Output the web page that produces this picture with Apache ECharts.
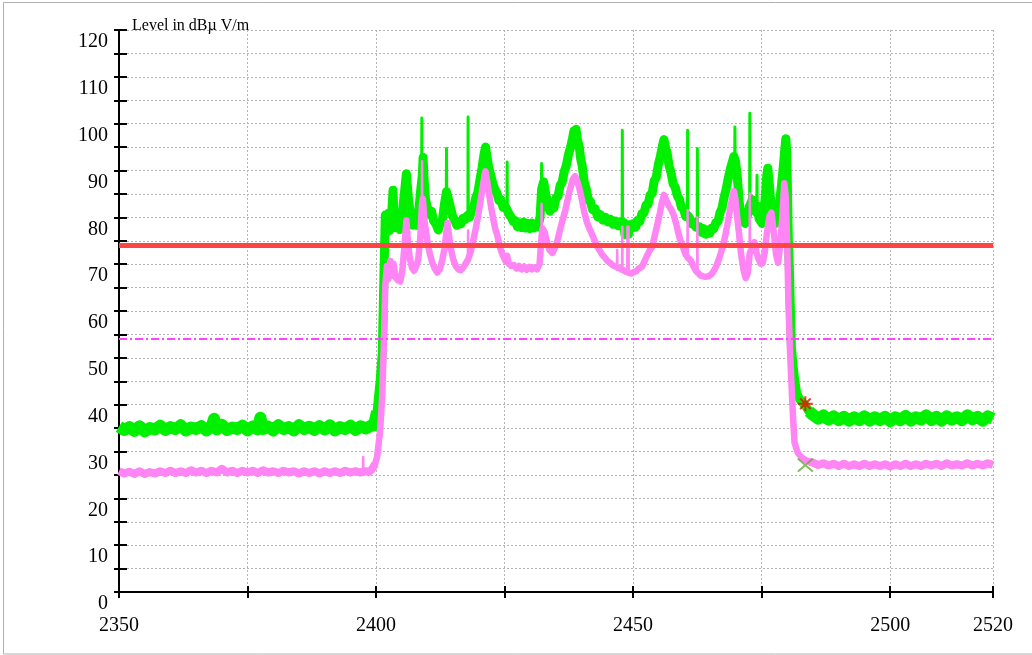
<!DOCTYPE html>
<html>
<head>
<meta charset="utf-8">
<script src="https://cdn.jsdelivr.net/npm/echarts@6/dist/echarts.min.js"></script>
<style>
html,body{margin:0;padding:0;background:#fff;}
#chart{width:1032px;height:655px;}
</style>
</head>
<body>
<div id="chart"></div>
<script>
// ---- data (frequency MHz, level dBµV/m) ----
const titleText = 'Level in dBµ V/m';
const xTickLabels = [2350, 2400, 2450, 2500, 2520];
const yTickLabels = [0, 10, 20, 30, 40, 50, 60, 70, 80, 90, 100, 110, 120];

// peak detector trace (green), broad shape
const peakTrace = [
[2350,35.3],[2351,34.6],[2352,35.2],[2353,34.4],[2354,35.4],[2355,34.3],[2356,35.0],[2357,34.7],[2358,35.5],[2359,34.6],
[2360,35.2],[2361,34.8],[2362,35.6],[2363,34.5],[2364,35.1],[2365,34.8],[2366,35.4],[2367,34.5],[2368,35.3],[2368.5,37.0],[2369,34.7],
[2370,35.7],[2371,34.6],[2372,35.1],[2373,34.8],[2374,35.5],[2375,34.5],[2376,35.3],[2377,34.7],[2377.5,37.2],[2378,34.8],[2379,35.3],
[2380,34.5],[2381,35.6],[2382,34.8],[2383,35.2],[2384,34.5],[2385,35.6],[2386,34.8],[2387,35.3],[2388,34.6],[2389,35.4],
[2390,34.7],[2391,35.6],[2392,34.5],[2393,35.2],[2394,34.8],[2395,35.5],[2396,34.6],[2397,35.4],[2398,34.9],[2399,35.5],
[2399.6,35.6],[2400.2,38.5],[2400.8,45.2],[2401.2,50.9],[2401.5,66.0],
[2401.8,80.5],[2402.0,76.8],[2402.3,80.8],[2402.6,77.2],[2403.0,80.0],[2403.3,85.8],[2403.5,80.0],[2403.8,77.8],[2404.2,78.8],[2404.6,77.4],
[2405.0,79.6],[2405.4,84.0],[2405.9,89.3],[2406.3,84.0],[2406.7,80.5],[2407.1,78.3],[2407.5,79.3],[2407.9,78.3],[2408.3,81.3],[2408.7,86.0],
[2409.0,89.0],[2409.15,92.8],[2409.35,88.0],[2409.6,84.0],[2410.0,82.0],[2410.4,80.6],[2410.8,81.3],[2411.2,79.2],[2411.6,78.7],[2412.1,77.3],
[2412.5,78.8],[2412.9,79.4],[2413.3,82.8],[2413.7,85.5],[2414.1,83.8],[2414.5,82.0],[2414.9,80.2],[2415.3,79.4],[2415.7,78.3],[2416.1,78.9],
[2416.5,78.6],[2416.9,79.8],[2417.3,79.5],[2417.8,80.4],[2418.2,80.0],[2418.6,81.5],[2419.0,82.2],[2419.4,84.2],[2419.8,85.3],[2420.2,88.0],
[2420.6,90.5],[2421.0,93.5],[2421.3,95.0],[2421.6,92.8],[2421.9,90.8],[2422.3,89.0],[2422.7,87.3],[2423.1,86.0],[2423.5,85.2],[2423.9,83.6],
[2424.3,83.8],[2424.7,82.1],[2425.1,82.4],[2425.5,81.6],[2425.9,80.6],[2426.3,80.0],[2426.7,79.1],[2427.1,79.3],[2427.5,78.0],[2427.9,78.8],
[2428.3,77.8],[2428.7,79.0],[2429.1,77.7],[2429.5,78.7],[2429.9,77.6],[2430.3,78.8],[2430.7,77.7],[2431.1,78.6],[2431.5,78.0],[2431.9,80.0],
[2432.2,86.0],[2432.6,87.6],[2433.0,85.0],[2433.4,83.0],[2433.8,81.3],[2434.2,82.3],[2434.6,82.0],[2435.0,84.2],[2435.4,84.5],[2435.8,86.8],
[2436.2,87.5],[2436.6,89.8],[2437.0,91.0],[2437.4,93.3],[2437.8,94.8],[2438.2,96.8],[2438.5,98.5],[2438.7,97.9],[2438.9,98.8],[2439.2,96.3],
[2439.5,95.3],[2439.8,92.5],[2440.1,91.0],[2440.5,87.5],[2440.9,86.0],[2441.3,83.7],[2441.7,83.4],[2442.1,81.7],[2442.6,81.8],[2443.1,80.1],
[2443.6,80.6],[2444.1,79.4],[2444.6,80.0],[2445.1,79.0],[2445.6,79.6],[2446.1,78.5],[2446.6,79.2],[2447.1,78.2],[2447.5,79.0],[2447.9,78.3],
[2448.2,78.9],[2448.4,76.3],[2448.6,78.4],[2448.9,77.5],[2449.1,76.4],[2449.3,78.4],[2449.7,77.6],[2450.1,78.7],[2450.5,77.9],[2450.9,79.4],
[2451.3,79.1],[2451.7,80.8],[2452.1,80.9],[2452.5,82.6],[2452.9,82.7],[2453.3,84.8],[2453.7,85.1],[2454.1,87.8],[2454.5,88.5],[2454.9,91.2],
[2455.3,93.0],[2455.7,95.2],[2456.0,96.6],[2456.3,94.8],[2456.6,93.8],[2457.0,91.0],[2457.4,89.4],[2457.8,87.1],[2458.2,86.4],[2458.6,84.6],
[2459.0,83.9],[2459.4,82.1],[2459.8,81.9],[2460.2,80.2],[2460.6,80.4],[2461.0,79.8],[2461.4,78.6],[2461.8,79.0],[2462.2,77.9],[2462.5,78.3],
[2462.9,78.0],[2463.3,76.8],[2463.7,77.6],[2464.1,76.4],[2464.5,77.3],[2464.9,76.6],[2465.3,77.7],[2465.7,77.6],[2466.1,78.9],[2466.5,79.1],
[2466.9,81.0],[2467.3,82.0],[2467.7,84.3],[2468.1,86.0],[2468.5,88.3],[2468.9,90.3],[2469.3,91.8],[2469.6,93.0],[2469.9,92.0],[2470.2,89.5],
[2470.5,85.3],[2470.8,81.2],[2471.1,79.2],[2471.4,79.9],[2471.8,78.7],[2472.2,80.3],[2472.6,82.3],[2472.9,83.0],[2473.2,83.8],[2473.5,82.3],
[2473.8,81.2],[2474.1,82.5],[2474.5,79.7],[2474.8,80.0],[2475.1,78.7],[2475.4,80.8],[2475.7,84.3],[2476.0,89.0],[2476.2,90.5],[2476.5,87.0],
[2476.8,83.1],[2477.1,80.6],[2477.4,79.6],[2477.7,78.7],[2478.0,79.9],[2478.3,81.4],[2478.6,84.3],[2478.9,87.3],[2479.2,90.7],[2479.5,94.5],
[2479.7,96.8],[2479.9,93.5],[2480.05,84.0],[2480.2,75.0],[2480.4,69.0],[2480.6,60.0],[2480.8,52.0],[2481.1,48.5],[2481.4,45.5],[2481.8,42.5],
[2482.3,41.3],[2482.8,40.6],[2483.5,39.8],[2484.2,38.6],
[2485,37.8],[2486,37.0],[2487,37.7],[2488,36.8],[2489,37.5],[2490,36.7],[2491,37.4],[2492,36.6],[2493,37.3],[2494,36.7],
[2495,37.5],[2496,36.6],[2497,37.3],[2498,36.7],[2499,37.4],[2500,36.5],[2501,37.3],[2502,36.7],[2503,37.6],[2504,36.6],
[2505,37.3],[2506,36.8],[2507,37.7],[2508,36.7],[2509,37.4],[2510,36.6],[2511,37.5],[2512,36.8],[2513,37.3],[2514,36.7],
[2515,37.7],[2516,36.9],[2517,37.4],[2518,36.6],[2519,37.5],[2520,37.0]
];

// narrow spikes on the peak trace: [frequency, top, base]
const peakSpikes = [
[2408.9,101.2,89],[2413.7,94.7,85],[2417.9,101.4,80],[2425.5,91.8,82],[2432.2,91.5,86],
[2447.9,98.6,78.5],[2460.6,98.6,80],[2462.5,94.7,78],[2469.8,99.3,92],[2472.7,102.2,82.5],[2474.1,89.0,82]
];

// average detector trace (magenta), broad shape
const avgTrace = [
[2350,25.8],[2351,25.3],[2352,25.7],[2353,25.2],[2354,25.8],[2355,25.2],[2356,25.6],[2357,25.3],[2358,25.8],[2359,25.4],
[2360,25.9],[2361,25.4],[2362,25.8],[2363,25.4],[2364,26.0],[2365,25.5],[2366,25.9],[2367,25.4],[2368,25.9],[2369,25.5],
[2370,26.3],[2371,25.5],[2372,25.9],[2373,25.4],[2374,25.9],[2375,25.5],[2376,25.9],[2377,25.4],[2378,26.0],[2379,25.5],
[2380,25.8],[2381,25.4],[2382,25.9],[2383,25.5],[2384,25.8],[2385,25.3],[2386,25.8],[2387,25.4],[2388,25.8],[2389,25.3],
[2390,25.8],[2391,25.4],[2392,25.8],[2393,25.4],[2394,25.9],[2395,25.5],[2396,25.8],[2397,25.5],[2398,25.8],[2398.6,25.6],
[2399.2,26.2],[2399.8,27.3],[2400.2,28.8],[2400.8,34.5],[2401.2,42.0],[2401.5,52.3],[2401.8,65.5],
[2402.1,69.6],[2402.4,66.8],[2402.8,70.7],[2403.1,67.6],[2403.4,70.1],[2403.8,67.2],[2404.2,66.6],[2404.7,66.3],[2405.1,68.5],[2405.5,73.5],
[2405.9,79.3],[2406.2,74.8],[2406.6,71.0],[2407.0,69.2],[2407.4,68.6],[2407.8,69.5],[2408.2,71.0],[2408.6,75.5],[2408.9,82.5],[2409.1,84.0],[2409.4,79.5],
[2409.8,76.3],[2410.2,73.5],[2410.6,71.6],[2411.0,70.1],[2411.5,68.9],[2411.9,68.2],[2412.4,68.9],[2412.9,70.9],[2413.3,73.3],[2413.7,77.0],
[2413.9,78.8],[2414.2,75.9],[2414.6,73.0],[2415.0,71.1],[2415.5,69.6],[2416.0,68.9],[2416.4,68.7],[2416.9,69.2],[2417.4,70.1],[2417.9,71.0],
[2418.4,72.6],[2418.8,74.5],[2419.3,77.1],[2419.8,80.0],[2420.3,83.4],[2420.8,86.8],[2421.1,89.0],[2421.3,89.8],[2421.6,87.8],[2422.0,84.9],
[2422.4,82.0],[2422.8,79.6],[2423.2,77.5],[2423.6,76.1],[2424.0,74.0],[2424.4,72.6],[2424.8,71.5],[2425.2,70.6],[2425.5,71.8],[2425.8,70.1],
[2426.3,69.6],[2426.8,69.8],[2427.3,69.1],[2427.8,69.6],[2428.3,68.9],[2428.8,69.5],[2429.3,68.8],[2429.8,69.4],[2430.3,68.9],[2430.8,69.3],
[2431.3,68.9],[2431.8,70.0],[2432.2,76.0],[2432.4,77.6],[2432.8,76.8],[2433.2,74.9],[2433.7,73.1],[2434.3,72.4],[2434.8,73.5],[2435.3,75.1],
[2435.8,77.4],[2436.3,79.5],[2436.8,81.4],[2437.3,84.0],[2437.8,86.3],[2438.3,88.2],[2438.7,88.8],[2439.1,87.8],[2439.5,86.4],[2440.0,84.0],
[2440.5,81.1],[2441.0,79.0],[2441.5,77.6],[2442.0,76.4],[2442.5,75.1],[2443.0,73.8],[2443.5,72.9],[2444.0,72.0],[2444.5,71.4],[2445.0,70.7],
[2445.5,70.3],[2446.0,69.8],[2446.5,69.5],[2447.0,69.2],[2447.5,69.1],[2447.9,68.8],[2448.3,68.6],[2448.7,68.3],[2449.1,68.2],[2449.6,68.0],
[2450.1,68.3],[2450.6,68.5],[2451.1,69.1],[2451.7,69.4],[2452.2,70.6],[2452.7,71.8],[2453.2,72.9],[2453.7,73.7],[2454.2,76.0],[2454.7,78.4],
[2455.2,80.9],[2455.6,83.2],[2456.0,84.8],[2456.4,83.8],[2456.9,82.5],[2457.4,81.7],[2457.9,80.5],[2458.4,78.5],[2458.8,76.6],[2459.2,75.1],
[2459.7,73.6],[2460.2,72.1],[2460.6,71.4],[2461.2,70.8],[2461.7,69.6],[2462.2,68.6],[2462.5,68.2],[2463.1,67.6],[2463.6,67.4],[2464.1,67.3],
[2464.6,67.4],[2465.1,67.7],[2465.6,68.4],[2466.1,69.4],[2466.6,70.8],[2467.1,72.5],[2467.6,74.5],[2468.0,76.5],[2468.5,79.4],[2468.9,82.0],
[2469.3,84.2],[2469.6,85.6],[2469.9,83.8],[2470.2,80.5],[2470.6,76.5],[2471.0,72.1],[2471.5,68.6],[2471.9,67.0],[2472.3,68.1],[2472.7,72.5],
[2473.2,73.0],[2473.6,74.7],[2474.0,72.5],[2474.4,71.1],[2474.8,70.1],[2475.2,70.2],[2475.6,72.5],[2476.0,76.4],[2476.5,80.2],[2476.9,81.0],
[2477.3,77.5],[2477.8,72.1],[2478.2,70.3],[2478.6,74.0],[2479.0,79.8],[2479.4,87.3],[2479.7,84.2],[2480.0,73.0],[2480.2,62.0],[2480.5,52.0],
[2480.8,44.5],[2481.1,37.4],[2481.4,31.9],[2482.0,29.8],[2482.7,28.8],[2483.5,28.2],[2484.3,27.8],
[2485,27.6],[2486,27.1],[2487,27.5],[2488,27.0],[2489,27.4],[2490,26.9],[2491,27.4],[2492,26.9],[2493,27.3],[2494,26.9],
[2495,27.4],[2496,26.9],[2497,27.3],[2498,26.9],[2499,27.3],[2500,26.8],[2501,27.3],[2502,26.9],[2503,27.4],[2504,26.9],
[2505,27.3],[2506,26.9],[2507,27.4],[2508,27.0],[2509,27.4],[2510,26.9],[2511,27.5],[2512,27.0],[2513,27.3],[2514,27.0],
[2515,27.5],[2516,27.0],[2517,27.4],[2518,27.0],[2519,27.5],[2520,27.1]
];

// narrow spikes on the average trace: [frequency, top, base]
const avgSpikes = [
[2397.5,28.8,25.6],[2408.95,92.0,84],[2417.9,77.2,71],[2432.2,82.9,76],[2446.9,73.0,69.4],[2447.9,78.0,68.8],
[2448.9,78.0,68.3],[2449.1,78.0,68.2],[2460.6,81.5,71.4],[2462.5,80.0,68.2],[2472.7,85.1,72.5]
];

const peakLimit = [[2350, 74], [2520, 74]];
const avgLimit = [[2350, 54], [2520, 54]];
const peakMarker = [[2483.5, 40.2]];
const avgMarker = [[2483.5, 27.1]];

// helpers: part of a trace within a frequency range; spike polylines with gaps
function part(trace, lo, hi) { return trace.filter(p => p[0] >= lo && p[0] <= hi); }
function spikeLine(spikes) {
  const out = [];
  spikes.forEach(s => {
    out.push([s[0] - 0.04, s[2]], [s[0], s[1]], [s[0] + 0.04, s[2]], [s[0] + 0.05, '-']);
  });
  return out;
}

// ---- chart ----
const FONT = 'Liberation Serif';
const chart = echarts.init(document.getElementById('chart'), null, {renderer: 'canvas'});

const gridLine = {show: true, lineStyle: {color: '#b4b4b4', width: 1, type: [2, 2]}};
const GREEN = '#00f000';
const PINK = '#ff85f5';

function trace(name, data, color, width, z) {
  return {
    name: name, type: 'line', data: data, showSymbol: false, symbol: 'none', z: z,
    connectNulls: false,
    lineStyle: {color: color, width: width, join: 'round', cap: 'butt'}
  };
}

const option = {
  animation: false,
  backgroundColor: '#ffffff',
  title: {
    text: titleText, left: 127, top: 13,
    textStyle: {fontFamily: FONT, fontSize: 16, fontWeight: 'normal', color: '#000'}
  },
  grid: {left: 119, right: 39, top: 30, bottom: 63},
  graphic: [{
    type: 'rect', z: -10, silent: true,
    shape: {x: 3.5, y: 2.5, width: 1040, height: 651.5},
    style: {fill: 'none', stroke: '#b0b0b0', lineWidth: 1}
  }],
  xAxis: [{
    type: 'value', min: 2350, max: 2520, interval: 25, position: 'bottom',
    axisLine: {show: true, onZero: false, lineStyle: {color: '#000', width: 2}},
    axisTick: {show: true, length: 6, lineStyle: {color: '#000', width: 2}},
    axisLabel: {
      show: true, margin: 24, fontFamily: FONT, fontSize: 20, color: '#000',
      formatter: v => xTickLabels.indexOf(v) >= 0 ? String(v) : ''
    },
    splitLine: gridLine
  }, {
    type: 'value', min: 2350, max: 2520, interval: 25, position: 'bottom',
    axisLine: {show: false, onZero: false},
    axisTick: {show: true, inside: true, length: 6, lineStyle: {color: '#000', width: 2}},
    axisLabel: {show: false},
    splitLine: {show: false}
  }],
  yAxis: [{
    type: 'value', min: 0, max: 120, interval: 5, position: 'left',
    axisLine: {show: true, onZero: false, lineStyle: {color: '#000', width: 2}},
    axisTick: {show: true, length: 5, lineStyle: {color: '#000', width: 2}},
    axisLabel: {
      show: true, margin: 11, fontFamily: FONT, fontSize: 20, color: '#000',
      verticalAlign: 'top', lineHeight: 24,
      formatter: v => yTickLabels.indexOf(v) >= 0 ? String(v) : ''
    },
    splitLine: gridLine
  }, {
    type: 'value', min: 0, max: 120, interval: 5, position: 'left',
    axisLine: {show: false, onZero: false},
    axisTick: {show: true, inside: true, length: 8, lineStyle: {color: '#000', width: 2}},
    axisLabel: {show: false},
    splitLine: {show: false}
  }],
  series: [
    trace('Peak (below band)', part(peakTrace, 2350, 2400.2), GREEN, 12, 2),
    trace('Peak (in band)', part(peakTrace, 2399.6, 2485), GREEN, 9, 2),
    trace('Peak (above band)', part(peakTrace, 2484.2, 2520), GREEN, 12, 2),
    trace('Peak spikes', spikeLine(peakSpikes), GREEN, 3, 2),
    trace('Average (below band)', part(avgTrace, 2350, 2399.8), PINK, 8, 3),
    trace('Average (in band)', part(avgTrace, 2399.2, 2485), PINK, 6.5, 3),
    trace('Average (above band)', part(avgTrace, 2484.3, 2520), PINK, 8, 3),
    trace('Average spikes', spikeLine(avgSpikes), PINK, 2.5, 3),
    {
      name: 'Peak limit', type: 'line', data: peakLimit, showSymbol: false, symbol: 'none', z: 4,
      lineStyle: {color: '#ff4444', width: 5}
    },
    {
      name: 'Average limit', type: 'line', data: avgLimit, showSymbol: false, symbol: 'none', z: 4,
      lineStyle: {color: '#ff44ff', width: 2, type: [8, 3, 2, 3]}
    },
    {
      name: 'Peak marker', type: 'scatter', data: peakMarker, z: 6,
      symbol: 'path://M10,0L10,20M0,10L20,10M3,3L17,17M17,3L3,17', symbolSize: 15,
      itemStyle: {color: 'rgba(0,0,0,0)', borderColor: '#ff0000', borderWidth: 2}
    },
    {
      name: 'Average marker', type: 'scatter', data: avgMarker, z: 6,
      symbol: 'path://M0,0L20,20M20,0L0,20', symbolSize: [15, 13],
      itemStyle: {color: 'rgba(0,0,0,0)', borderColor: '#66aa33', borderWidth: 2}
    }
  ]
};
chart.setOption(option);
</script>
</body>
</html>
